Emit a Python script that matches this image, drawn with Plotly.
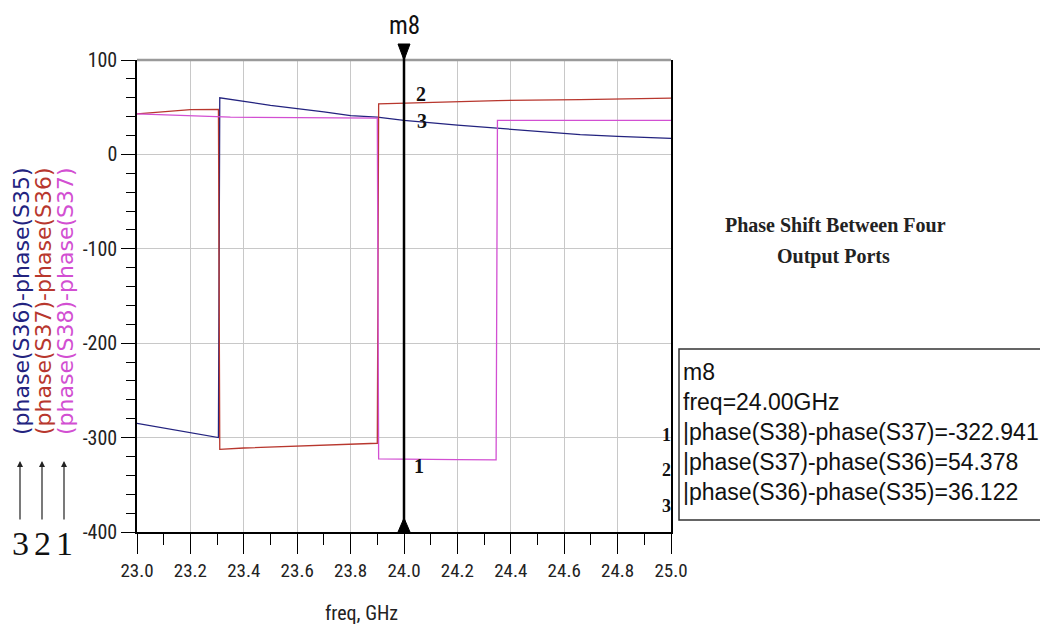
import plotly.graph_objects as go

# ---------------- data ----------------
freq_s36_s35 = [23.0, 23.1, 23.2, 23.305, 23.31, 23.5, 23.7, 23.8, 23.9, 24.0, 24.2, 24.35, 24.5, 24.66, 24.8, 25.0]
val_s36_s35 = [-285, -290, -295, -300, 60, 52, 45, 41, 39.5, 36.1, 31, 27.5, 24, 21, 19, 17]

freq_s37_s36 = [23.0, 23.1, 23.2, 23.305, 23.31, 23.4, 23.6, 23.8, 23.9, 23.905, 24.0, 24.35, 24.66, 25.0]
val_s37_s36 = [43, 45, 47.5, 47.6, -312.5, -311, -309, -307, -306, 53.5, 54.4, 57, 58, 59.6]

freq_s38_s37 = [23.0, 23.2, 23.35, 23.6, 23.9, 23.905, 24.0, 24.2, 24.345, 24.35, 24.7, 25.0]
val_s38_s37 = [43, 41, 39.5, 39, 38.5, -322.5, -322.9, -323.3, -323.5, 36, 36, 36]

series_names = ["phase(S36)-phase(S35)", "phase(S37)-phase(S36)", "phase(S38)-phase(S37)"]
series_colors = ["#23237f", "#b8372e", "#d24fd2"]
series_ids = ["3", "2", "1"]

marker_name = "m8"
marker_freq = 24.0
marker_vals = [-322.941, 54.378, 36.122]   # 1: S38-S37, 2: S37-S36, 3: S36-S35
marker_lines = ["phase(S38)-phase(S37)=-322.941",
                "phase(S37)-phase(S36)=54.378",
                "phase(S36)-phase(S35)=36.122"]

x_ticks = [23.0, 23.2, 23.4, 23.6, 23.8, 24.0, 24.2, 24.4, 24.6, 24.8, 25.0]
y_ticks = [100, 0, -100, -200, -300, -400]

NARROW = "Liberation Sans Narrow, Arial Narrow, Roboto Condensed, Liberation Sans, Arial, sans-serif"
ARIAL = "Liberation Sans, Arial, sans-serif"
SERIF = "Liberation Serif, Times New Roman, serif"

# plot area in page pixels (page has an 8px body margin)
PL, PR, PT, PB = 137, 671, 60, 532
PW, PH = PR - PL, PB - PT


def px(xp):
    return (xp - PL) / PW


def py(yp):
    return (PB - yp) / PH


fig = go.Figure()

xs = [freq_s36_s35, freq_s37_s36, freq_s38_s37]
ys = [val_s36_s35, val_s37_s36, val_s38_s37]
for x, y, c, n in zip(xs, ys, series_colors, series_names):
    fig.add_trace(go.Scatter(x=x, y=y, mode="lines", name=n,
                             line=dict(color=c, width=1.3), hoverinfo="skip"))

fig.update_layout(
    width=1040, height=628,
    margin=dict(l=PL - 8, r=1040 - (PR - 8), t=PT - 8, b=628 - (PB - 8), autoexpand=False),
    paper_bgcolor="white", plot_bgcolor="white",
    showlegend=False,
    xaxis=dict(range=[23.0, 25.0], tickvals=x_ticks, ticktext=[f"{v:.1f}" for v in x_ticks],
               showgrid=True, gridcolor="#c8c8c8", gridwidth=1,
               showline=True, linecolor="black", linewidth=1.5,
               ticks="outside", ticklen=20, tickcolor="black", tickwidth=1.2,
               minor=dict(dtick=0.1, ticks="outside", ticklen=11, tickcolor="black", tickwidth=1.2, showgrid=False),
               tickfont=dict(family=NARROW, size=19, color="#222"),
               zeroline=False),
    yaxis=dict(range=[-400, 100], tickvals=y_ticks, ticktext=[str(v) for v in y_ticks],
               showgrid=True, gridcolor="#c8c8c8", gridwidth=1,
               showline=True, linecolor="black", linewidth=1.5, mirror=True,
               ticks="outside", ticklen=14, tickcolor="black", tickwidth=1.2,
               minor=dict(dtick=20, ticks="outside", ticklen=9, tickcolor="black", tickwidth=1.2, showgrid=False),
               tickfont=dict(family=NARROW, size=20, color="#222"),
               zeroline=False),
)

tri_dx = 6 / PW * 2.0  # half-width of marker triangles in GHz
shapes = []
# top gray border
shapes.append(dict(type="line", xref="paper", yref="paper", x0=0, x1=1, y0=1, y1=1,
                   line=dict(color="#9a9a9a", width=2.5)))
# marker vertical line
shapes.append(dict(type="line", xref="x", yref="paper", x0=marker_freq, x1=marker_freq,
                   y0=0, y1=py(46), line=dict(color="black", width=2.5)))
# marker triangles (top pointing down, bottom pointing up)
shapes.append(dict(type="path", xref="x", yref="paper",
                   path=f"M {marker_freq - tri_dx},{py(44)} L {marker_freq + tri_dx},{py(44)} L {marker_freq},{py(60)} Z",
                   fillcolor="black", line=dict(color="black", width=1)))
shapes.append(dict(type="path", xref="x", yref="paper",
                   path=f"M {marker_freq - tri_dx},{py(532)} L {marker_freq + tri_dx},{py(532)} L {marker_freq},{py(518)} Z",
                   fillcolor="black", line=dict(color="black", width=1)))
# marker readout box
shapes.append(dict(type="rect", xref="paper", yref="paper",
                   x0=px(679), x1=px(1045), y0=py(520), y1=py(349),
                   line=dict(color="#333", width=1.5), fillcolor="white"))
fig.update_layout(shapes=shapes)

ann = []
# x axis title
ann.append(dict(text="freq, GHz", xref="paper", yref="paper", x=px(361), y=py(613),
                showarrow=False, font=dict(family=NARROW, size=20, color="#222"), xanchor="center", yanchor="middle"))
# marker name on top
ann.append(dict(text=marker_name, xref="x", yref="paper", x=marker_freq, y=py(25),
                showarrow=False, font=dict(family=NARROW, size=25, color="#111"), xanchor="center", yanchor="middle"))
# marker point labels
ann.append(dict(text="<b>2</b>", xref="x", yref="y", x=marker_freq, y=marker_vals[1], xshift=17, yshift=9,
                showarrow=False, font=dict(family=SERIF, size=20, color="#111")))
ann.append(dict(text="<b>3</b>", xref="x", yref="y", x=marker_freq, y=marker_vals[2], xshift=18, yshift=-1,
                showarrow=False, font=dict(family=SERIF, size=20, color="#111")))
ann.append(dict(text="<b>1</b>", xref="x", yref="y", x=marker_freq, y=marker_vals[0], xshift=15, yshift=-7,
                showarrow=False, font=dict(family=SERIF, size=20, color="#111")))
# readout box text
box_lines = [marker_name, f"freq={marker_freq:.2f}GHz"] + ["|" + s for s in marker_lines]
box_y = [372, 402, 432, 462, 492]
for t, yy in zip(box_lines, box_y):
    ann.append(dict(text=t, xref="paper", yref="paper", x=px(681), y=py(yy),
                    showarrow=False, xanchor="left", yanchor="middle",
                    font=dict(family=ARIAL, size=23, color="#111")))
for t, yy in zip(["1", "2", "3"], [435, 470, 506]):
    ann.append(dict(text="<b>" + t + "</b>", xref="paper", yref="paper", x=px(666), y=py(yy),
                    showarrow=False, xanchor="center", yanchor="middle",
                    font=dict(family=SERIF, size=18, color="#111")))
# side caption
ann.append(dict(text="<b>Phase Shift Between Four</b>", xref="paper", yref="paper", x=px(835),
                y=py(225), showarrow=False, xanchor="center", yanchor="middle",
                font=dict(family=SERIF, size=20, color="#222")))
ann.append(dict(text="<b>Output Ports</b>", xref="paper", yref="paper", x=px(833),
                y=py(256), showarrow=False, xanchor="center", yanchor="middle",
                font=dict(family=SERIF, size=20, color="#222")))
# rotated y-axis titles (coloured)
for name, c, xpx in zip(series_names, series_colors, [21, 43, 65]):
    ann.append(dict(text="(" + name, xref="paper", yref="paper", x=px(xpx), y=py(301),
                    showarrow=False, textangle=-90, xanchor="center", yanchor="middle",
                    font=dict(family="DejaVu Sans, Verdana, sans-serif", size=22, color=c)))
# arrows with numbers in the bottom-left
for sid, xpx in zip(series_ids, [20, 42, 64]):
    ann.append(dict(text="", xref="paper", yref="paper", x=px(xpx), y=py(461),
                    ax=0, ay=60, axref="pixel", ayref="pixel",
                    showarrow=True, arrowhead=2, arrowsize=1, arrowwidth=1.2, arrowcolor="#222"))
    ann.append(dict(text=sid, xref="paper", yref="paper", x=px(xpx), y=py(543),
                    showarrow=False, xanchor="center", yanchor="middle",
                    font=dict(family=SERIF, size=34, color="#111")))
fig.update_layout(annotations=ann)

fig.write_html("out.html")
